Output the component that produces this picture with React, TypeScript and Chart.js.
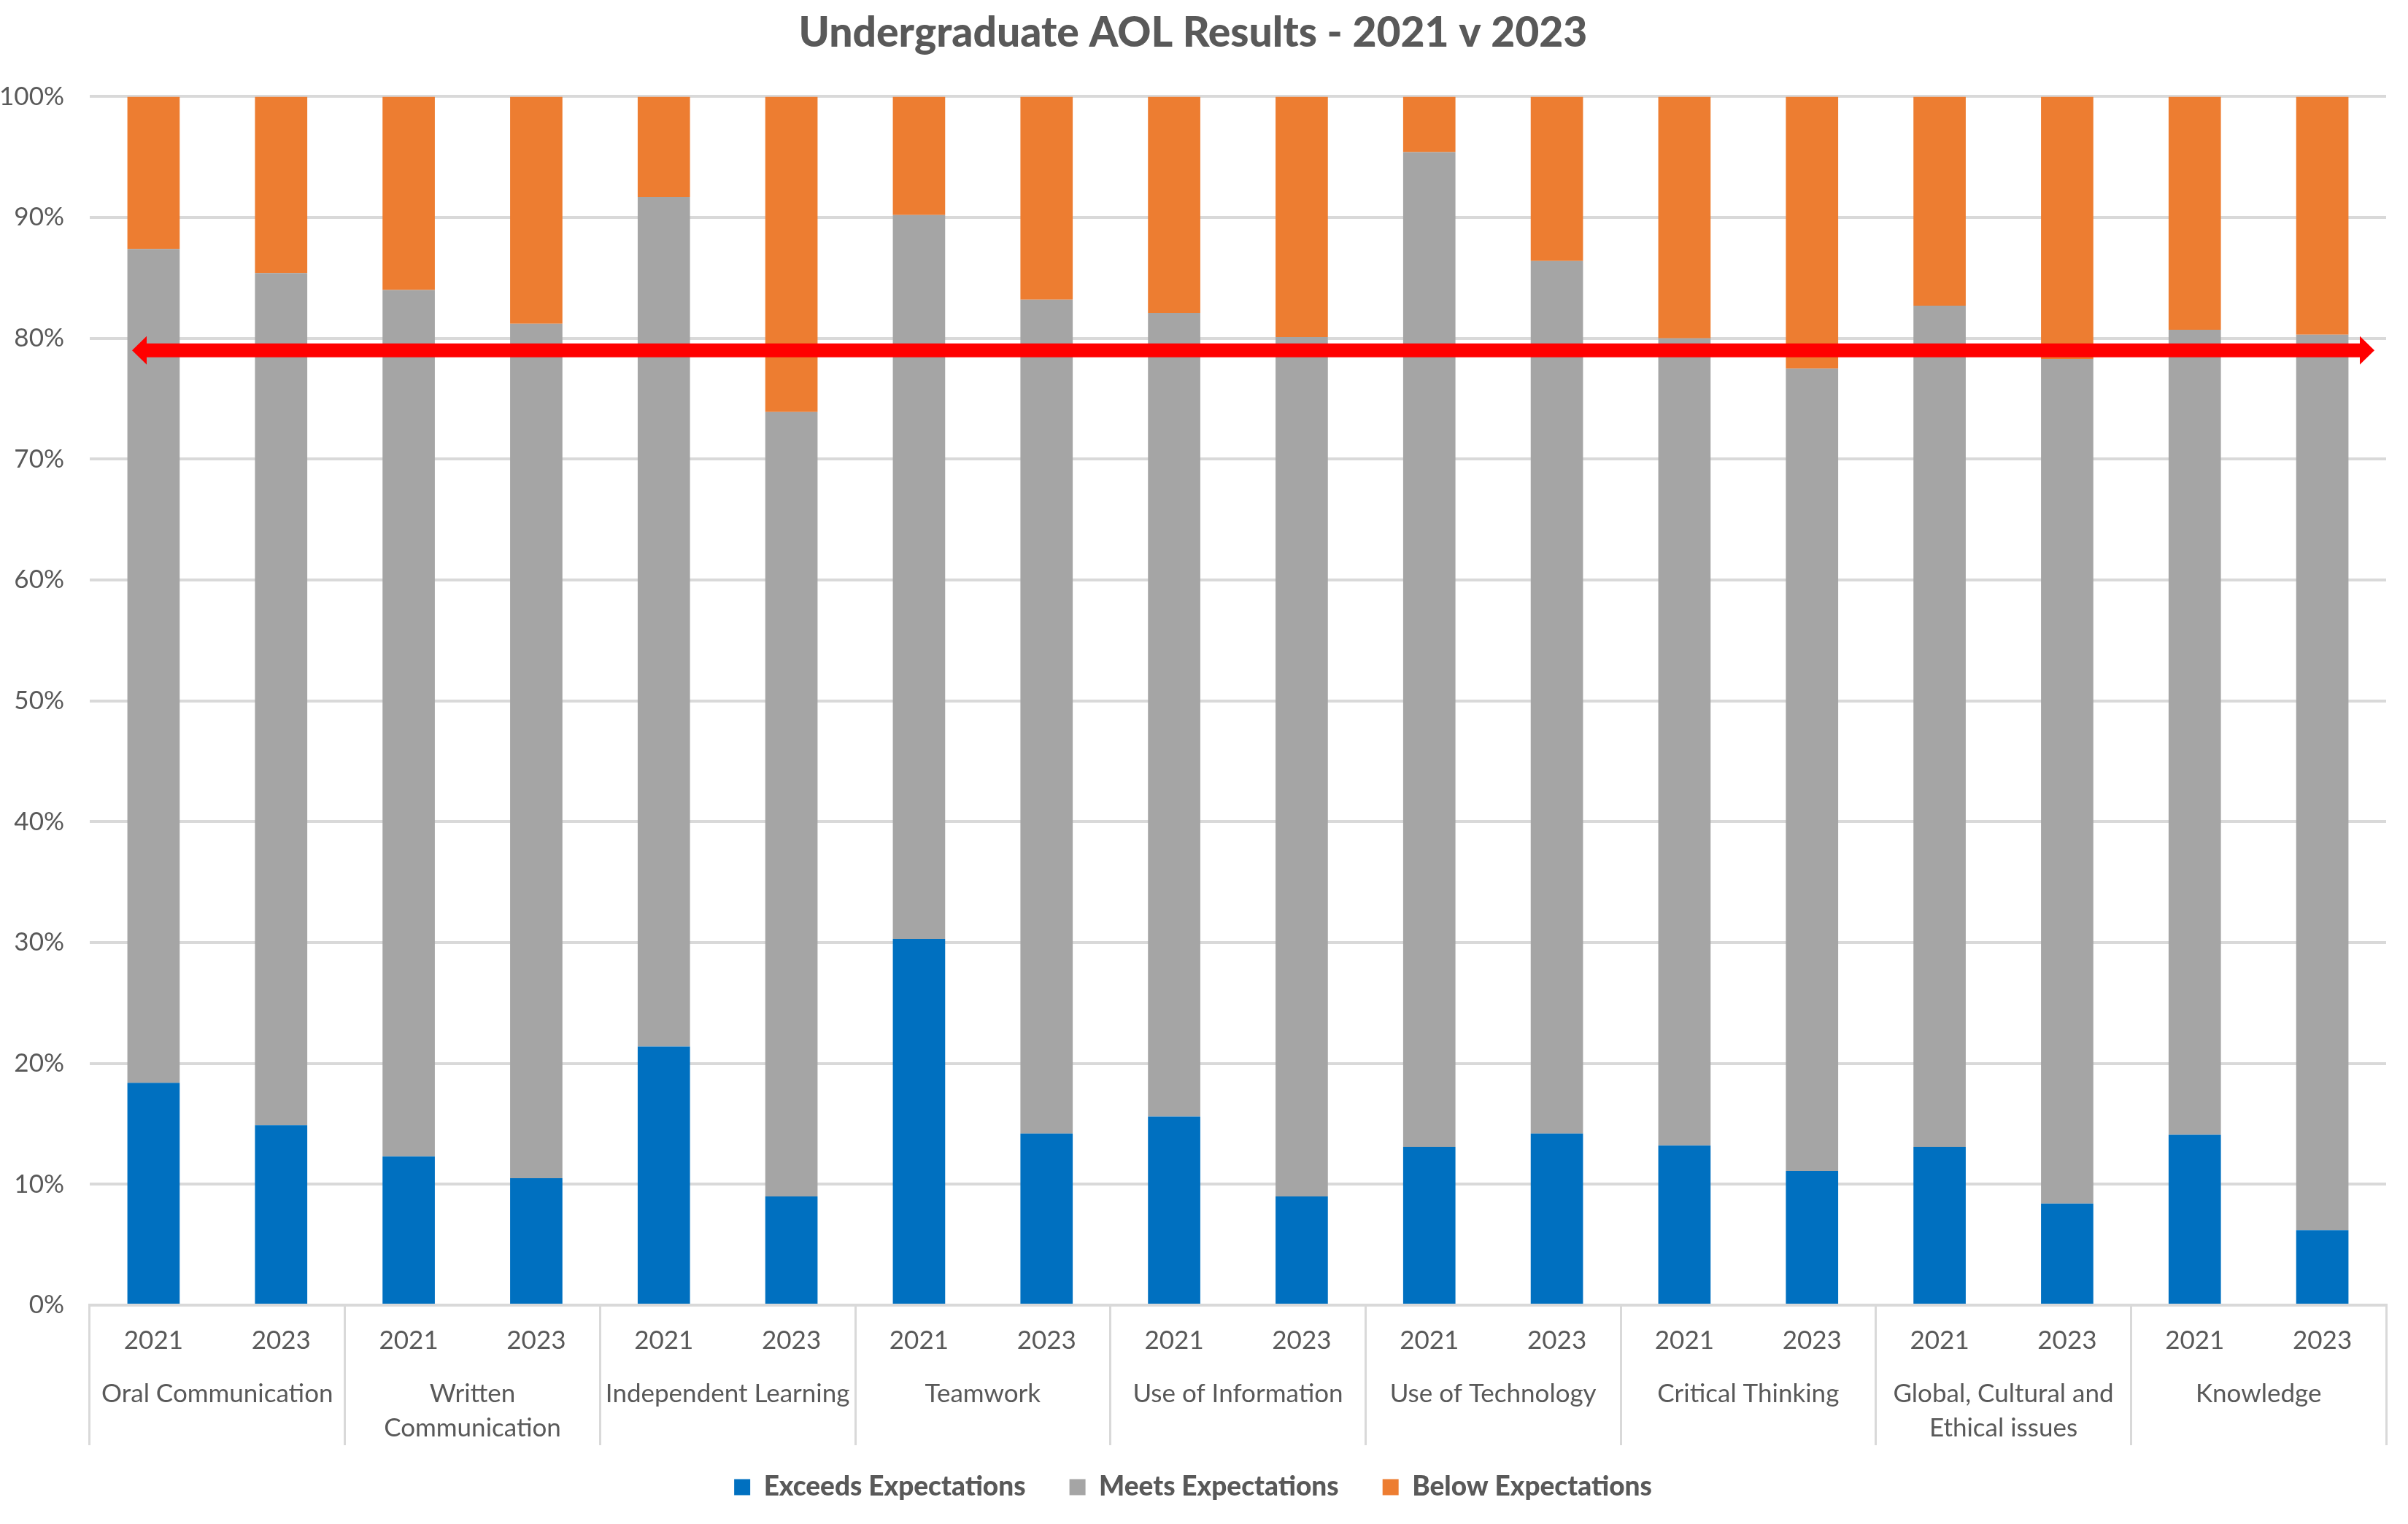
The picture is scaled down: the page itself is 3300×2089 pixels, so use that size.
import React, { useEffect, useRef } from "react";
import { Chart, registerables } from "chart.js";

Chart.register(...registerables);

const yearLabels = [
  "2021", "2023", "2021", "2023", "2021", "2023", "2021", "2023", "2021",
  "2023", "2021", "2023", "2021", "2023", "2021", "2023", "2021", "2023",
];

const groupLabels: (string | string[])[] = [
  "Oral Communication",
  ["Written", "Communication"],
  "Independent Learning",
  "Teamwork",
  "Use of Information",
  "Use of Technology",
  "Critical Thinking",
  ["Global, Cultural and", "Ethical issues"],
  "Knowledge",
];

const exceeds = [18.4, 14.9, 12.3, 10.5, 21.4, 9.0, 30.3, 14.2, 15.6, 9.0, 13.1, 14.2, 13.2, 11.1, 13.1, 8.4, 14.1, 6.2];
const meets = [69.0, 70.5, 71.7, 70.7, 70.3, 64.9, 59.9, 69.0, 66.5, 71.1, 82.3, 72.2, 66.8, 66.4, 69.6, 69.9, 66.6, 74.1];
const below = [12.6, 14.6, 16.0, 18.8, 8.3, 26.1, 9.8, 16.8, 17.9, 19.9, 4.6, 13.6, 20.0, 22.5, 17.3, 21.7, 19.3, 19.7];

const seriesNames = ["Exceeds Expectations", "Meets Expectations", "Below Expectations"];
const targetLevel = [79];

const TEXT = "#595959";
const GRID = "#D9D9D9";
const FONT = "Lato";

const arrowPlugin = {
  id: "targetArrow",
  afterDatasetsDraw(chart: any) {
    const { ctx, chartArea, scales } = chart;
    const y = scales.y.getPixelForValue(targetLevel[0]);
    const x1 = chartArea.left + 58;
    const x2 = chartArea.right - 16;
    const half = 9.5;
    const headHalf = 19.5;
    const headLen = 20;
    ctx.save();
    ctx.fillStyle = "#FF0000";
    ctx.beginPath();
    ctx.moveTo(x1, y);
    ctx.lineTo(x1 + headLen, y - headHalf);
    ctx.lineTo(x1 + headLen, y - half);
    ctx.lineTo(x2 - headLen, y - half);
    ctx.lineTo(x2 - headLen, y - headHalf);
    ctx.lineTo(x2, y);
    ctx.lineTo(x2 - headLen, y + headHalf);
    ctx.lineTo(x2 - headLen, y + half);
    ctx.lineTo(x1 + headLen, y + half);
    ctx.lineTo(x1 + headLen, y + headHalf);
    ctx.closePath();
    ctx.fill();
    ctx.restore();
  },
};

export default function App() {
  const canvasRef = useRef<HTMLCanvasElement | null>(null);

  useEffect(() => {
    document.body.style.margin = "0";
    const canvas = canvasRef.current;
    if (!canvas) return;
    const chart = new Chart(canvas, {
      type: "bar",
      data: {
        labels: yearLabels,
        datasets: [
          { label: seriesNames[0], data: exceeds, backgroundColor: "#0070C0" },
          { label: seriesNames[1], data: meets, backgroundColor: "#A5A5A5" },
          { label: seriesNames[2], data: below, backgroundColor: "#ED7D31" },
        ],
      },
      options: {
        responsive: false,
        animation: false,
        devicePixelRatio: 1,
        layout: { padding: { top: 0, left: 0, right: 30, bottom: 22 } },
        datasets: { bar: { barPercentage: 0.41, categoryPercentage: 1.0, borderWidth: 0 } },
        plugins: {
          title: {
            display: true,
            text: "Undergraduate AOL Results - 2021 v 2023",
            color: TEXT,
            font: { family: FONT, size: 57, weight: "900", lineHeight: 1.2 },
            padding: { top: 11, bottom: 53 },
          },
          legend: {
            position: "bottom",
            labels: {
              color: TEXT,
              font: { family: FONT, size: 37, weight: "900" },
              boxWidth: 22,
              boxHeight: 22,
              padding: 60,
            },
          },
          tooltip: { enabled: false },
        },
        scales: {
          x: {
            type: "category",
            stacked: true,
            offset: true,
            grid: {
              display: true,
              drawOnChartArea: false,
              drawTicks: true,
              tickLength: 192,
              offset: true,
              lineWidth: 3,
              color: (ctx: any) =>
                ctx.index === undefined || ctx.index % 2 === 0 ? GRID : "rgba(0,0,0,0)",
            },
            border: { display: true, color: GRID, width: 4 },
            ticks: {
              color: TEXT,
              font: { family: FONT, size: 35, lineHeight: 1.27 },
              padding: -166,
              maxRotation: 0,
              minRotation: 0,
              autoSkip: false,
            },
            afterFit: (scale: any) => {
              scale.height = 70;
            },
          },
          x2: {
            type: "category",
            labels: groupLabels as any,
            position: "bottom",
            offset: true,
            grid: { display: false, drawTicks: false },
            border: { display: false },
            ticks: {
              color: TEXT,
              font: { family: FONT, size: 35, lineHeight: 1.34 },
              mirror: true,
              padding: -75,
              maxRotation: 0,
              minRotation: 0,
              autoSkip: false,
            },
            afterFit: (scale: any) => {
              scale.height = 101;
            },
          },
          y: {
            stacked: true,
            min: 0,
            max: 100,
            ticks: {
              stepSize: 10,
              color: TEXT,
              font: { family: FONT, size: 35 },
              padding: 35,
              callback: (v: any) => `${v}%`,
            },
            grid: { color: GRID, lineWidth: 4, drawTicks: false },
            border: { display: false },
            afterFit: (scale: any) => {
              scale.width = 123;
            },
          },
        },
      },
      plugins: [arrowPlugin],
    });
    return () => chart.destroy();
  }, []);

  return (
    <div style={{ width: 3300, height: 2089, background: "#fff" }}>
      <canvas ref={canvasRef} width={3300} height={2089} style={{ display: "block" }} />
    </div>
  );
}
